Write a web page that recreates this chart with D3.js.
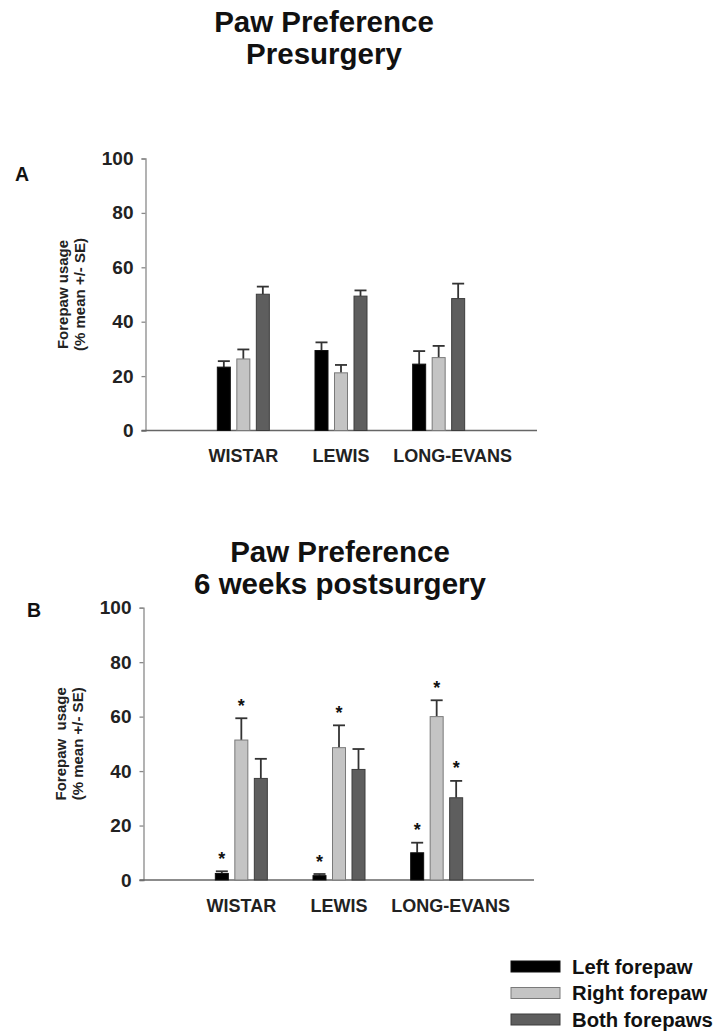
<!DOCTYPE html>
<html>
<head>
<meta charset="utf-8">
<script src="https://cdn.jsdelivr.net/npm/d3@7"></script>
<style>
  html, body { margin: 0; padding: 0; background: #fff; }
  svg { display: block; font-family: "Liberation Sans", Arial, sans-serif; }
</style>
</head>
<body>
<svg id="chart" width="718" height="1032"></svg>
<script>
// ---- data ----
const categories = ["WISTAR", "LEWIS", "LONG-EVANS"];
const series = ["Left forepaw", "Right forepaw", "Both forepaws"];
const yTicks = [0, 20, 40, 60, 80, 100];

// Panel A: presurgery (mean, SE)
const preLeft = [23.3, 29.4, 24.4];
const preRight = [26.3, 21.2, 26.8];
const preBoth = [50.1, 49.4, 48.5];
const preLeftSE = [2.2, 3.0, 4.8];
const preRightSE = [3.5, 2.9, 4.3];
const preBothSE = [2.8, 2.1, 5.5];

// Panel B: 6 weeks postsurgery (mean, SE, significance)
const postLeft = [2.4, 1.6, 10.0];
const postRight = [51.4, 48.6, 60.0];
const postBoth = [37.3, 40.6, 30.2];
const postLeftSE = [0.8, 0.6, 3.7];
const postRightSE = [8.0, 8.2, 6.0];
const postBothSE = [7.2, 7.5, 6.2];
const postLeftSig = [1, 1, 1];
const postRightSig = [1, 1, 1];
const postBothSig = [0, 0, 1];

const colors = ["#000000", "#c4c4c4", "#5e5e5e"];
const strokes = ["#111111", "#7a7a7a", "#3c3c3c"];

const svg = d3.select("#chart");

function buildRows(means, ses, sigs) {
  const rows = [];
  categories.forEach((c, ci) => {
    series.forEach((s, si) => {
      rows.push({ cat: c, ser: s, si, v: means[si][ci], se: ses[si][ci], sig: sigs ? sigs[si][ci] : 0 });
    });
  });
  return rows;
}

function drawPanel(cfg) {
  const g = svg.append("g");
  const y = d3.scaleLinear().domain([0, 100]).range([cfg.y0, cfg.y100]);
  const x = d3.scaleBand().domain(categories).range([cfg.bandL, cfg.bandR]);
  const xi = d3.scaleBand().domain(series).range([-29.25, 29.25]).paddingInner(1 / 3).paddingOuter(1 / 6);

  // titles
  const t = g.append("text").attr("text-anchor", "middle")
    .attr("font-weight", "bold").attr("font-size", 29.5).attr("fill", "#111");
  t.append("tspan").attr("x", cfg.titleX).attr("y", cfg.titleY1).text(cfg.title1);
  t.append("tspan").attr("x", cfg.titleX).attr("y", cfg.titleY2).text(cfg.title2);

  // panel letter
  g.append("text").attr("x", cfg.letterX).attr("y", cfg.letterY)
    .attr("font-weight", "bold").attr("font-size", 19.5).attr("fill", "#111").text(cfg.letter);

  // y axis
  const yAxis = d3.axisLeft(y).tickValues(yTicks).tickSize(4).tickPadding(8);
  const ya = g.append("g").attr("transform", `translate(${cfg.axisX},0)`).call(yAxis);
  ya.select(".domain").attr("stroke", "#8a8a8a").attr("stroke-width", 1.3);
  ya.selectAll(".tick line").attr("stroke", "#8a8a8a").attr("stroke-width", 1.3);
  ya.selectAll(".tick text").attr("font-size", 19).attr("font-weight", "bold")
    .attr("fill", "#222").attr("font-family", "Liberation Sans, Arial, sans-serif");

  // x axis line
  const xa = d3.axisBottom(x).tickSize(0).tickPadding(19);
  const xg = g.append("g").attr("transform", `translate(0,${cfg.y0})`).call(xa);
  xg.select(".domain").attr("d", `M${cfg.axisX - 4},0H${cfg.xEnd}`)
    .attr("stroke", "#666").attr("stroke-width", 1.5);
  xg.selectAll(".tick text").attr("font-size", 18).attr("font-weight", "bold")
    .attr("fill", "#222").attr("font-family", "Liberation Sans, Arial, sans-serif")
    .attr("dx", d => d === "LONG-EVANS" ? 14 : 0);

  // y label
  const yl = g.append("text").attr("text-anchor", "middle")
    .attr("transform", `translate(${cfg.ylabX},${(cfg.y0 + cfg.y100) / 2}) rotate(-90)`)
    .attr("font-weight", "bold").attr("font-size", 15).attr("fill", "#222");
  yl.append("tspan").attr("x", 0).attr("y", 0).attr("xml:space", "preserve").text(cfg.ylab1);
  yl.append("tspan").attr("x", 0).attr("y", 17).text("(% mean +/- SE)");

  const rows = buildRows(cfg.means, cfg.ses, cfg.sigs);
  const bx = d => x(d.cat) + x.bandwidth() / 2 + xi(d.ser);
  const cx = d => bx(d) + xi.bandwidth() / 2;

  // error bars (upper only)
  const eb = g.append("g").attr("stroke", "#333").attr("stroke-width", 1.8);
  eb.selectAll("line.v").data(rows).join("line")
    .attr("x1", cx).attr("x2", cx)
    .attr("y1", d => y(d.v)).attr("y2", d => y(d.v + d.se));
  eb.selectAll("line.c").data(rows).join("line")
    .attr("x1", d => cx(d) - 6).attr("x2", d => cx(d) + 6)
    .attr("y1", d => y(d.v + d.se)).attr("y2", d => y(d.v + d.se));

  // bars
  g.append("g").selectAll("rect").data(rows).join("rect")
    .attr("x", bx).attr("width", xi.bandwidth())
    .attr("y", d => y(d.v)).attr("height", d => cfg.y0 - y(d.v))
    .attr("fill", d => colors[d.si]).attr("stroke", d => strokes[d.si]).attr("stroke-width", 1);

  // significance stars
  g.append("g").selectAll("text").data(rows.filter(d => d.sig)).join("text")
    .attr("x", cx).attr("y", d => y(d.v + d.se) - 6.5)
    .attr("text-anchor", "middle").attr("font-size", 18).attr("font-weight", "bold")
    .attr("fill", "#111").text("*");
}

drawPanel({
  title1: "Paw Preference", title2: "Presurgery", titleX: 324, titleY1: 32, titleY2: 64,
  letter: "A", letterX: 15, letterY: 181,
  axisX: 145.5, y0: 430.5, y100: 158.5, bandL: 194.5, bandR: 487.5, xEnd: 537,
  ylabX: 68, ylab1: "Forepaw usage",
  means: [preLeft, preRight, preBoth], ses: [preLeftSE, preRightSE, preBothSE], sigs: null
});

drawPanel({
  title1: "Paw Preference", title2: "6 weeks postsurgery", titleX: 340, titleY1: 562, titleY2: 594,
  letter: "B", letterX: 27, letterY: 617,
  axisX: 143.5, y0: 880, y100: 607.7, bandL: 192.5, bandR: 485.5, xEnd: 534,
  ylabX: 66, ylab1: "Forepaw  usage",
  means: [postLeft, postRight, postBoth], ses: [postLeftSE, postRightSE, postBothSE],
  sigs: [postLeftSig, postRightSig, postBothSig]
});

// legend
const lg = svg.append("g");
const ly = d3.scalePoint().domain(series).range([961, 1014]);
lg.selectAll("rect").data(series).join("rect")
  .attr("x", 511).attr("y", d => ly(d)).attr("width", 49).attr("height", 11)
  .attr("fill", (d, i) => colors[i]).attr("stroke", (d, i) => strokes[i]).attr("stroke-width", 1);
lg.selectAll("text").data(series).join("text")
  .attr("x", 572).attr("y", d => ly(d) + 12.5)
  .attr("font-size", 20.3).attr("font-weight", "bold").attr("fill", "#111").text(d => d);
</script>
</body>
</html>
